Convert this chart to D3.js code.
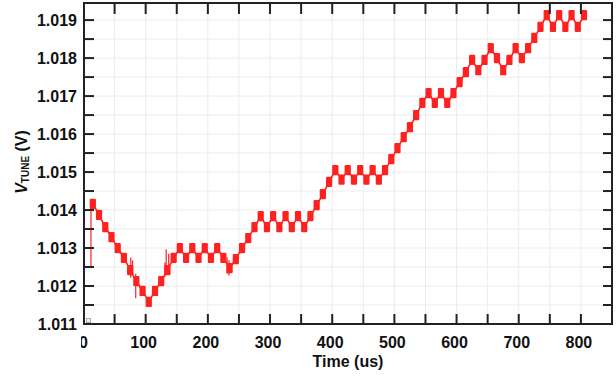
<!DOCTYPE html>
<html><head><meta charset="utf-8">
<script src="https://cdn.jsdelivr.net/npm/d3@7"></script>
<style>
body{margin:0;background:#fff;}
svg{display:block;font-family:"Liberation Sans",Arial,sans-serif;}
</style></head>
<body><svg id="c" width="616" height="376"></svg>
<script>
// step centre times (us)
const times = [15,25,35,45,55,65,75,85,95,105,115,125,135,145,155,165,175,185,195,205,
  215,225,235,245,255,265,275,285,295,305,315,325,335,345,355,365,375,385,395,405,
  415,425,435,445,455,465,475,485,495,505,515,525,535,545,555,565,575,585,595,605,
  615,625,635,645,655,665,675,685,695,705,715,725,735,745,755,765,775,785,795,805];
// V_TUNE level of each step (V)
const vtune = [1.01416,1.01387,1.01355,1.01329,1.01300,1.01274,1.01242,1.01213,1.01187,1.01158,
  1.01187,1.01213,1.01242,1.01274,1.01300,1.01274,1.01300,1.01274,1.01300,1.01274,
  1.01300,1.01274,1.01247,1.01271,1.01300,1.01326,1.01355,1.01384,1.01355,1.01384,
  1.01355,1.01384,1.01355,1.01384,1.01355,1.01384,1.01413,1.01442,1.01474,1.01505,
  1.01480,1.01505,1.01480,1.01505,1.01480,1.01505,1.01480,1.01505,1.01534,1.01563,
  1.01592,1.01618,1.01650,1.01682,1.01708,1.01682,1.01708,1.01682,1.01708,1.01737,
  1.01763,1.01795,1.01768,1.01795,1.01826,1.01800,1.01768,1.01795,1.01826,1.01800,
  1.01826,1.01853,1.01882,1.01913,1.01882,1.01913,1.01882,1.01913,1.01882,1.01913];
// ripple half amplitude (V)
const ripple = 0.000135;
// glitches: [time, low, high]
const spikeT    = [12, 76, 79, 84, 131, 133, 137, 231, 234];
const spikeLow  = [1.01250,1.01222,1.01228,1.01168,1.01225,1.01240,1.01245,1.01232,1.01228];
const spikeHigh = [1.01426,1.01275,1.01268,1.01232,1.01262,1.01297,1.01285,1.01275,1.01268];

const xTicks = [0,100,200,300,400,500,600,700,800];
const yTicks = [1.011,1.012,1.013,1.014,1.015,1.016,1.017,1.018,1.019];

const svg = d3.select("#c");
const L=84, R=612, T=3, B=324;
const x = d3.scaleLinear().domain([0,850]).range([83.5,612]);
const y = d3.scaleLinear().domain([1.011,1.01945]).range([B,T]);
const minorX = d3.range(50,850,50);
const minorY = d3.range(1.0115,1.0194,0.0005);

// grid
const g = svg.append("g");
g.selectAll(".gx").data(minorX).enter().append("line")
  .attr("x1",d=>x(d)).attr("x2",d=>x(d)).attr("y1",T).attr("y2",B)
  .attr("stroke","#ececec").attr("stroke-width",1);
g.selectAll(".gy").data(minorY).enter().append("line")
  .attr("y1",d=>y(d)).attr("y2",d=>y(d)).attr("x1",L).attr("x2",R)
  .attr("stroke","#ececec").attr("stroke-width",1);

// trace
const red = "#ff2020";
const tr = svg.append("g");
const pts = times.map((t,i)=>[t,vtune[i]]);
tr.append("path").datum(pts)
  .attr("d", d3.line().x(d=>x(d[0])).y(d=>y(d[1])))
  .attr("fill","none").attr("stroke",red).attr("stroke-width",1.6);
tr.selectAll("rect.b").data(pts).enter().append("rect")
  .attr("x",d=>x(d[0]-5)).attr("width",d=>x(d[0]+5)-x(d[0]-5))
  .attr("y",d=>y(d[1]+ripple)).attr("height",d=>y(d[1]-ripple)-y(d[1]+ripple))
  .attr("rx",1.2).attr("fill",red);
tr.selectAll("line.s").data(spikeT).enter().append("line")
  .attr("x1",d=>x(d)).attr("x2",d=>x(d))
  .attr("y1",(d,i)=>y(spikeLow[i])).attr("y2",(d,i)=>y(spikeHigh[i]))
  .attr("stroke",red).attr("stroke-width",1.2);

// small marker at corner
svg.append("rect").attr("x",86.5).attr("y",318.5).attr("width",4).attr("height",4)
  .attr("fill","#eee").attr("stroke","#aaa").attr("stroke-width",1);

// ticks (inward on all sides)
const tk = svg.append("g").attr("stroke","#222").attr("stroke-width",2);
const allX = d3.range(50,850,50);
tk.selectAll(".tb").data(allX).enter().append("line")
  .attr("x1",d=>x(d)).attr("x2",d=>x(d)).attr("y1",B).attr("y2",B-10);
tk.selectAll(".tt").data(allX).enter().append("line")
  .attr("x1",d=>x(d)).attr("x2",d=>x(d)).attr("y1",T).attr("y2",T+11);
const allY = d3.range(1.0115,1.0194,0.0005);
tk.selectAll(".tl").data(allY).enter().append("line")
  .attr("y1",d=>y(d)).attr("y2",d=>y(d)).attr("x1",L).attr("x2",L+10);
tk.selectAll(".tr").data(allY).enter().append("line")
  .attr("y1",d=>y(d)).attr("y2",d=>y(d)).attr("x1",R).attr("x2",R-9);

// frame
svg.append("rect").attr("x",L).attr("y",T).attr("width",R-L).attr("height",B-T)
  .attr("fill","none").attr("stroke","#222").attr("stroke-width",2);

// tick labels
svg.append("defs").append("clipPath").attr("id","clip0")
  .append("rect").attr("x",81).attr("y",326).attr("width",540).attr("height",40);
svg.append("g").attr("clip-path","url(#clip0)").selectAll("text").data(xTicks).enter().append("text")
  .attr("x",d=>x(d)-(d===0?0:2)).attr("y",348).attr("text-anchor","middle")
  .attr("font-size",16).attr("font-weight","bold").attr("fill","#111")
  .text(d=>d);
svg.append("g").selectAll("text").data(yTicks).enter().append("text")
  .attr("x",77).attr("y",d=>y(d)+6).attr("text-anchor","end")
  .attr("font-size",16).attr("font-weight","bold").attr("fill","#111")
  .text(d=>d3.format(".3f")(d));

// axis titles
svg.append("text").attr("x",(L+R)/2).attr("y",367).attr("text-anchor","middle")
  .attr("font-size",16).attr("font-weight","bold").attr("fill","#111").text("Time (us)");
const yl = svg.append("text").attr("transform","translate(27,162) rotate(-90)")
  .attr("text-anchor","middle").attr("font-size",16).attr("font-weight","bold").attr("fill","#111");
yl.append("tspan").attr("font-style","italic").text("V");
yl.append("tspan").attr("font-size",10).attr("dy",2).text("TUNE");
yl.append("tspan").attr("dy",-2).text(" (V)");
</script></body></html>
